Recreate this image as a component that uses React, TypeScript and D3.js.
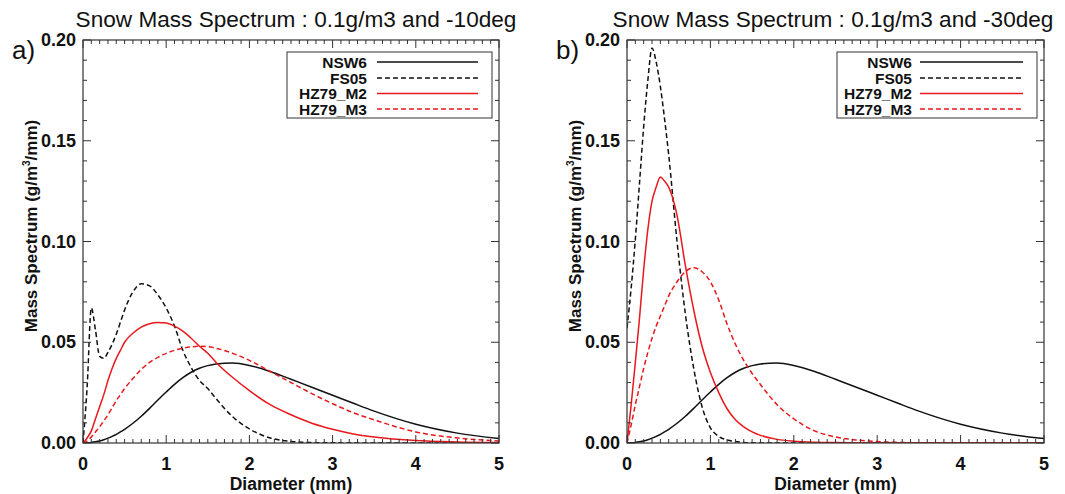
import React from "react";
import * as d3 from "d3";

// Diameter grid (mm)
const diameter = [0, 0.05, 0.1, 0.15, 0.2, 0.25, 0.3, 0.35, 0.4, 0.45, 0.5, 0.6, 0.7, 0.8, 0.9, 1.0, 1.1, 1.2, 1.3, 1.4, 1.5, 1.6, 1.8, 2.0, 2.25, 2.5, 2.75, 3.0, 3.25, 3.5, 4.0, 4.5, 5.0];

// Panel a) -10 deg
const nsw6A = [0, 0.0001, 0.0003, 0.0006, 0.001, 0.0016, 0.0024, 0.0033, 0.0043, 0.0055, 0.0068, 0.0098, 0.0133, 0.0172, 0.0213, 0.0253, 0.0291, 0.0324, 0.0351, 0.0371, 0.0384, 0.0392, 0.0397, 0.0385, 0.0355, 0.0316, 0.0277, 0.0237, 0.0197, 0.0158, 0.0093, 0.0049, 0.0022];
const fs05A = [0, 0.028, 0.067, 0.056, 0.043, 0.042, 0.045, 0.049, 0.054, 0.060, 0.066, 0.075, 0.079, 0.078, 0.0735, 0.067, 0.058, 0.046, 0.0375, 0.031, 0.027, 0.022, 0.013, 0.007, 0.0025, 0.0008, 0.0002, 0.0001, 0, 0, 0, 0, 0];
const hz79m2A = [0, 0.0025, 0.006, 0.012, 0.018, 0.024, 0.031, 0.037, 0.042, 0.046, 0.050, 0.0545, 0.0575, 0.0592, 0.0598, 0.0595, 0.058, 0.0555, 0.052, 0.048, 0.0445, 0.040, 0.0325, 0.026, 0.019, 0.014, 0.0098, 0.0068, 0.0045, 0.003, 0.0012, 0.0005, 0.0002];
const hz79m3A = [0, 0.001, 0.003, 0.0055, 0.008, 0.011, 0.014, 0.0175, 0.021, 0.024, 0.027, 0.032, 0.0365, 0.040, 0.0425, 0.0445, 0.046, 0.047, 0.0477, 0.048, 0.0478, 0.047, 0.0445, 0.041, 0.0355, 0.030, 0.0245, 0.0195, 0.015, 0.0115, 0.0055, 0.0025, 0.001];

// Panel b) -30 deg
const nsw6B = [0, 0.0001, 0.0003, 0.0006, 0.001, 0.0016, 0.0024, 0.0033, 0.0043, 0.0055, 0.0068, 0.0098, 0.0133, 0.0172, 0.0213, 0.0253, 0.0291, 0.0324, 0.0351, 0.0371, 0.0384, 0.0392, 0.0397, 0.0385, 0.0355, 0.0316, 0.0277, 0.0237, 0.0197, 0.0158, 0.0093, 0.0049, 0.0022];
const fs05B = [0.057, 0.077, 0.101, 0.129, 0.157, 0.180, 0.196, 0.189, 0.177, 0.161, 0.143, 0.100, 0.064, 0.037, 0.018, 0.0075, 0.0033, 0.0015, 0.0007, 0.0003, 0.0001, 0, 0, 0, 0, 0, 0, 0, 0, 0, 0, 0, 0];
const hz79m2B = [0, 0.019, 0.040, 0.062, 0.086, 0.106, 0.120, 0.127, 0.132, 0.130, 0.127, 0.113, 0.088, 0.066, 0.048, 0.035, 0.025, 0.017, 0.0115, 0.008, 0.0055, 0.0038, 0.0018, 0.0009, 0.0004, 0.0002, 0.0001, 0, 0, 0, 0, 0, 0];
const hz79m3B = [0, 0.009, 0.019, 0.028, 0.037, 0.045, 0.052, 0.058, 0.063, 0.068, 0.073, 0.080, 0.085, 0.087, 0.085, 0.080, 0.071, 0.059, 0.049, 0.041, 0.0345, 0.029, 0.019, 0.012, 0.006, 0.003, 0.0015, 0.0007, 0.0003, 0.0001, 0, 0, 0];

const seriesNames = ["NSW6", "FS05", "HZ79_M2", "HZ79_M3"];
const titles = ["Snow Mass Spectrum : 0.1g/m3 and -10deg", "Snow Mass Spectrum : 0.1g/m3 and -30deg"];
const tags = ["a)", "b)"];
const xDomain = [0, 5];
const yDomain = [0, 0.2];

const RED = "#e8181c";
const BLK = "#111";
const styles = [
  { color: BLK, dash: undefined },
  { color: BLK, dash: "5,3" },
  { color: RED, dash: undefined },
  { color: RED, dash: "5,3" },
];

const FONT = "'Liberation Sans', Arial, Helvetica, sans-serif";

function Panel({ left, right, title, titleX, tag, data, legendX, id }) {
  const top = 40;
  const bottom = 443;
  const x = d3.scaleLinear().domain(xDomain).range([left, right]);
  const y = d3.scaleLinear().domain(yDomain).range([bottom, top]);
  const line = d3
    .line<number>()
    .x((_, i) => x(diameter[i]))
    .y((d) => y(d))
    .curve(d3.curveMonotoneX);

  const xMinor = x.ticks(50);
  const xMajor = x.ticks(5);
  const yMinor = y.ticks(20);
  const yMajor = y.ticks(4);
  const isMajorX = (v) => Math.abs(v - Math.round(v)) < 1e-6;
  const isMajorY = (v) => Math.abs(v * 20 - Math.round(v * 20)) < 1e-6;
  const fmt = d3.format(".2f");

  const lg = legendX;
  const rowY = [62, 78, 93.5, 109];

  return (
    <g>
      <defs>
        <clipPath id={id}>
          <rect x={left} y={top} width={right - left} height={bottom - top} />
        </clipPath>
      </defs>
      <text x={titleX} y={27} textAnchor="middle" fontSize={22.6} fontFamily={FONT} fill="#111">
        {title}
      </text>
      <text x={left - 71} y={59} fontSize={26} fontFamily={FONT} fill="#111">
        {tag}
      </text>
      {/* curves */}
      <g clipPath={`url(#${id})`}>
        {data.map((vals, k) => (
          <path
            key={k}
            d={line(vals) || ""}
            fill="none"
            stroke={styles[k].color}
            strokeWidth={1.5}
            strokeDasharray={styles[k].dash}
          />
        ))}
      </g>
      {/* frame */}
      <rect x={left} y={top} width={right - left} height={bottom - top} fill="none" stroke="#333" strokeWidth={1.2} />
      {/* x ticks */}
      {xMinor.map((v, i) => {
        const len = isMajorX(v) ? 8 : 4;
        const px = x(v);
        return (
          <g key={"xt" + i} stroke="#333" strokeWidth={1}>
            <line x1={px} x2={px} y1={bottom} y2={bottom - len} />
            <line x1={px} x2={px} y1={top} y2={top + len} />
          </g>
        );
      })}
      {xMajor.map((v, i) => (
        <text key={"xl" + i} x={x(v)} y={470} textAnchor="middle" fontSize={18} fontWeight="bold" fontFamily={FONT} fill="#111">
          {v}
        </text>
      ))}
      {/* y ticks */}
      {yMinor.map((v, i) => {
        const len = isMajorY(v) ? 8 : 4;
        const py = y(v);
        return (
          <g key={"yt" + i} stroke="#333" strokeWidth={1}>
            <line x1={left} x2={left + len} y1={py} y2={py} />
            <line x1={right} x2={right - len} y1={py} y2={py} />
          </g>
        );
      })}
      {yMajor.map((v, i) => (
        <text key={"yl" + i} x={left - 7} y={y(v) + 6} textAnchor="end" fontSize={18} fontWeight="bold" fontFamily={FONT} fill="#111">
          {fmt(v)}
        </text>
      ))}
      {/* axis titles */}
      <text x={(left + right) / 2} y={490} textAnchor="middle" fontSize={17.5} fontWeight="bold" fontFamily={FONT} fill="#111">
        Diameter (mm)
      </text>
      <text
        transform={`translate(${left - 46},${226}) rotate(-90)`}
        textAnchor="middle"
        fontSize={17}
        fontWeight="bold"
        fontFamily={FONT}
        fill="#111"
      >
        Mass Spectrum (g/m
        <tspan dy={-7} fontSize={10}>3</tspan>
        <tspan dy={7}>/mm)</tspan>
      </text>
      {/* legend */}
      <rect x={lg.x0} y={52} width={lg.x1 - lg.x0} height={66} fill="#fff" stroke="#333" strokeWidth={1} />
      {seriesNames.map((name, k) => (
        <g key={"lg" + k}>
          <text x={lg.tx} y={rowY[k] + 5.5} textAnchor="end" fontSize={15.5} fontWeight="bold" fontFamily={FONT} fill="#111">
            {name}
          </text>
          <line
            x1={lg.l0}
            x2={lg.l1}
            y1={rowY[k]}
            y2={rowY[k]}
            stroke={styles[k].color}
            strokeWidth={1.5}
            strokeDasharray={styles[k].dash}
          />
        </g>
      ))}
    </g>
  );
}

export default function App() {
  return (
    <svg
      width={1065}
      height={494}
      viewBox="0 0 1065 494"
      style={{ position: "absolute", left: 0, top: 0, background: "#fff" }}
    >
      <rect x={0} y={0} width={1065} height={494} fill="#fff" />
      <Panel
        id="clipA"
        left={83}
        right={499}
        title={titles[0]}
        titleX={296}
        tag={tags[0]}
        data={[nsw6A, fs05A, hz79m2A, hz79m3A]}
        legendX={{ x0: 287, x1: 492, tx: 367, l0: 377, l1: 478 }}
      />
      <Panel
        id="clipB"
        left={627}
        right={1044}
        title={titles[1]}
        titleX={833}
        tag={tags[1]}
        data={[nsw6B, fs05B, hz79m2B, hz79m3B]}
        legendX={{ x0: 837, x1: 1037, tx: 912, l0: 920, l1: 1023 }}
      />
    </svg>
  );
}
